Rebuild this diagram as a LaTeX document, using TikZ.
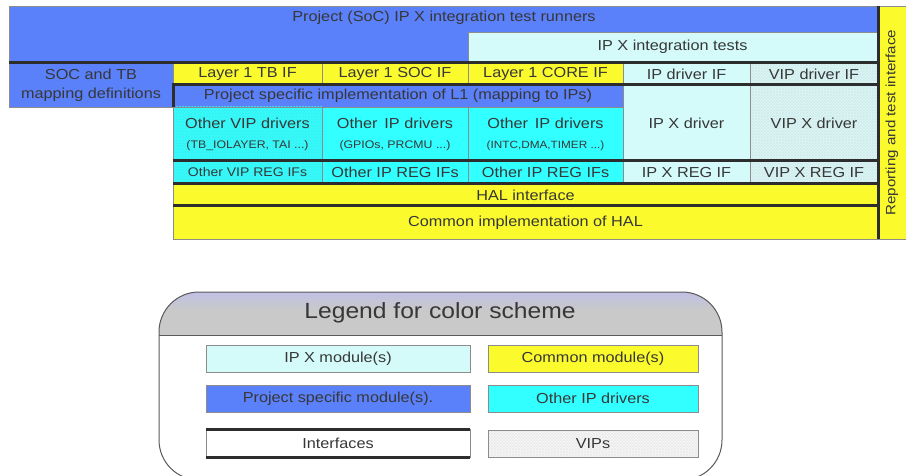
\documentclass[tikz,border=0pt]{standalone}
\usepackage{fontspec}
\setmainfont{Liberation Sans}[FakeStretch=1.12]
\usetikzlibrary{patterns}
\definecolor{pblue}{RGB}{90,128,250}
\definecolor{lcyan}{RGB}{212,250,250}
\definecolor{pyellow}{RGB}{250,250,45}
\definecolor{pcyan}{RGB}{50,255,255}
\definecolor{txt}{RGB}{55,55,55}
\definecolor{edge}{RGB}{140,140,140}
\definecolor{sepc}{RGB}{45,45,45}
\definecolor{lav}{RGB}{192,192,228}
\definecolor{hgray}{RGB}{201,201,201}
\definecolor{vipbg}{RGB}{220,248,248}
\definecolor{vipleg}{RGB}{248,248,248}
\newcommand\fsz[2]{\fontsize{#1}{#2}\selectfont}
\begin{document}
\begin{tikzpicture}[x=1pt,y=-1pt,
  cell/.style={draw=edge, line width=0.6pt, inner sep=0pt, outer sep=0pt, anchor=north west, text=txt, align=center, font=\fsz{14.5}{17}},
  plain/.style={inner sep=0pt, text=txt, align=center, font=\fsz{14.5}{17}},
  sep/.style={draw=sepc, line width=3pt},
  hatch/.style={preaction={fill=#1}, pattern=crosshatch, pattern color=#1!88!gray}]
\useasboundingbox (0,0) rectangle (906,476);
\clip (0,0) rectangle (906,476);

% top runners
\node[cell, fill=pblue, minimum width=869, minimum height=57] (runners) at (9,6) {};
\node[plain] (runnerstext) at (444,18) {Project (SoC) IP X integration test runners};
\node[cell, fill=lcyan, minimum width=409, minimum height=30] (tests) at (468,32) {IP X integration tests};

% SOC mapping
\node[cell, fill=pblue, minimum width=164, minimum height=44] (soc) at (9,63) {SOC and TB\\[2pt]mapping definitions};

% Layer row
\node[cell, fill=pyellow, minimum width=149, minimum height=22] (l1tb) at (173,63) {Layer 1 TB IF};
\node[cell, fill=pyellow, minimum width=146, minimum height=22] (l1soc) at (322,63) {Layer 1 SOC IF};
\node[cell, fill=pyellow, minimum width=155, minimum height=22] (l1core) at (468,63) {Layer 1 CORE IF};
\node[cell, fill=lcyan, minimum width=127, minimum height=22] (ipif) at (623,63) {IP driver IF};
\node[cell, hatch=vipbg, minimum width=128, minimum height=22] (vipif) at (750,63) {VIP driver IF};

% project specific
\node[cell, fill=pblue, minimum width=450, minimum height=22] (proj) at (173,85) {Project specific implementation of L1 (mapping to IPs)};
\node[cell, fill=lcyan, minimum width=127, minimum height=76] (ipxdrv) at (623,85) {IP X driver};
\node[cell, hatch=vipbg, minimum width=128, minimum height=76] (vipxdrv) at (750,85) {VIP X driver};

% other drivers
\node[cell, hatch=pcyan, minimum width=149, minimum height=54] (othervip) at (173,107) {Other VIP drivers\\[3pt]{\fsz{11}{13}(TB\_IOLAYER, TAI ...)}};
\node[cell, fill=pcyan, minimum width=146, minimum height=54] (otherip1) at (322,107) {Other\, IP drivers\\[3pt]{\fsz{11}{13}(GPIOs, PRCMU ...)}};
\node[cell, fill=pcyan, minimum width=155, minimum height=54] (otherip2) at (468,107) {Other\, IP drivers\\[3pt]{\fsz{10.5}{13}(INTC,DMA,TIMER ...)}};

% REG row
\node[cell, hatch=pcyan, minimum width=149, minimum height=23, font=\fsz{12.5}{15}] (vipreg) at (173,161) {Other VIP REG IFs};
\node[cell, fill=pcyan, minimum width=146, minimum height=23] (ipreg1) at (322,161) {Other IP REG IFs};
\node[cell, fill=pcyan, minimum width=155, minimum height=23] (ipreg2) at (468,161) {Other IP REG IFs};
\node[cell, fill=lcyan, minimum width=127, minimum height=23] (ipxreg) at (623,161) {IP X REG IF};
\node[cell, hatch=vipbg, minimum width=128, minimum height=23] (vipxreg) at (750,161) {VIP X REG IF};

% HAL
\node[cell, fill=pyellow, minimum width=705, minimum height=22] (hal) at (173,184) {HAL interface};
\node[cell, fill=pyellow, minimum width=705, minimum height=33] (common) at (173,206) {Common implementation of HAL};

% reporting
\node[cell, fill=pyellow, minimum width=28, minimum height=233] (report) at (878,6) {};
\node[plain, rotate=90, font=\fsz{13.5}{16}] (reporttext) at (report.center) {Reporting and test interface};

% interface separators
\draw[sep] (runners.south west) -- (runners.south east);
\draw[sep] (proj.south west) -- (proj.north west) -- (vipif.south east);
\draw[sep] (othervip.south west) -- (vipxdrv.south east);
\draw[sep] (vipreg.south west) -- (vipxreg.south east);
\draw[sep] (hal.south west) -- (hal.south east);
\draw[sep] (report.north west) -- (report.south west);

% legend
\begin{scope}
  \clip[rounded corners=40] (159,292) rectangle (722,480);
  \fill[hgray] (159,292) rectangle (722,335);
  \shade[top color=lav, bottom color=hgray] (159,292) rectangle (722,310);
\end{scope}
\node[draw=black!65, line width=1pt, rounded corners=40, inner sep=0pt, outer sep=0pt, anchor=north west, minimum width=563, minimum height=188] (legend) at (159,292) {};
\draw[draw=black!65, line width=0.8pt] (159,335) -- (722,335);
\node[plain, font=\fsz{22}{25}] (legendtitle) at (440,313) {Legend for color scheme};

\node[cell, fill=lcyan, minimum width=264, minimum height=27] (ipxmod) at (206,345) {IP X module(s)};
\node[cell, fill=pyellow, minimum width=210, minimum height=27] (commod) at (488,345) {Common module(s)};
\node[cell, fill=pblue, minimum width=264, minimum height=27] (projmod) at (206,385) {Project specific module(s).};
\node[cell, fill=pcyan, minimum width=210, minimum height=27] (othdrv) at (488,385) {Other IP drivers};
\node[cell, fill=white, minimum width=264, minimum height=28] (ifaces) at (206,429) {Interfaces};
\draw[sep] (ifaces.north west) -- (ifaces.north east);
\draw[sep] (ifaces.south west) -- (ifaces.south east);
\node[cell, hatch=vipleg, minimum width=210, minimum height=27] (vips) at (488,430) {VIPs};
\end{tikzpicture}
\end{document}
